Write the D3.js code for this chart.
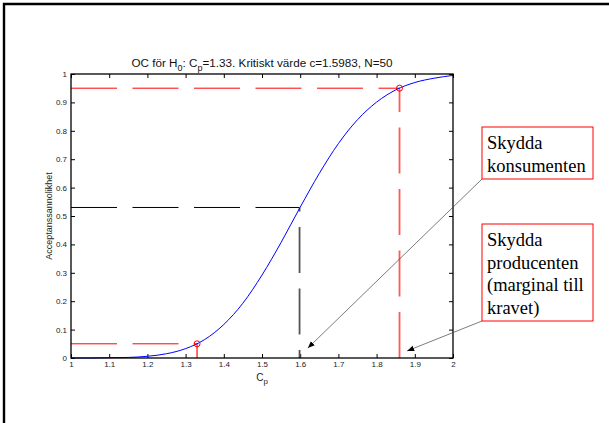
<!DOCTYPE html>
<html>
<head>
<meta charset="utf-8">
<script src="https://cdn.jsdelivr.net/npm/d3@7"></script>
<style>
  html, body { margin: 0; padding: 0; background: #fff; }
  svg { display: block; }
</style>
</head>
<body>
<div id="chart"></div>
<script>
// OC-kurva, avlästa värden
const cpValues = [1.00, 1.05, 1.10, 1.15, 1.20, 1.25, 1.30, 1.35, 1.40, 1.45, 1.50,
                  1.55, 1.60, 1.65, 1.70, 1.75, 1.80, 1.85, 1.90, 1.95, 2.00];
const ocValues = [0.000, 0.000, 0.001, 0.002, 0.006, 0.015, 0.033, 0.065, 0.118, 0.193, 0.292,
                  0.407, 0.531, 0.650, 0.755, 0.839, 0.901, 0.944, 0.970, 0.985, 0.995];

const xTicks = [1, 1.1, 1.2, 1.3, 1.4, 1.5, 1.6, 1.7, 1.8, 1.9, 2];
const yTicks = [0, 0.1, 0.2, 0.3, 0.4, 0.5, 0.6, 0.7, 0.8, 0.9, 1];

// referenspunkter
const cpH0 = 1.33, alpha = 0.05;
const cpCrit = 1.5983, ocCrit = 0.53;
const cpBeta = 1.86, ocBeta = 0.95;

// annoteringar
const notes = [
  { lines: ["Skydda", "konsumenten"], box: [482, 127, 111, 52], target: [1.62, 0.035] },
  { lines: ["Skydda", "producenten", "(marginal till", "kravet)"], box: [482, 224, 111, 97], target: [1.88, 0.025] }
];

const W = 609, H = 423;
const sans = "'Liberation Sans', Arial, Helvetica, sans-serif";
const serif = "'Liberation Serif', 'Times New Roman', serif";

const svg = d3.select('#chart').append('svg')
  .attr('width', W).attr('height', H);

// ram (bara topp och vänster syns)
svg.append('path')
  .attr('d', `M4,${H} L4,4 L${W},4`)
  .attr('fill', 'none').attr('stroke', '#000').attr('stroke-width', 2.4);

const x = d3.scaleLinear().domain([1, 2]).range([71, 453]);
const y = d3.scaleLinear().domain([0, 1]).range([358, 74]);

const fmt = d3.format('~g');

// axlar med inåtriktade ticks
const gx = svg.append('g').attr('transform', `translate(0,${y(0)})`)
  .call(d3.axisBottom(x).tickValues(xTicks).tickFormat(fmt).tickSize(-4).tickPadding(4));
svg.append('g').attr('transform', `translate(0,${y(1)})`)
  .call(d3.axisTop(x).tickValues(xTicks).tickFormat('').tickSize(-4));
const gy = svg.append('g').attr('transform', `translate(${x(1)},0)`)
  .call(d3.axisLeft(y).tickValues(yTicks).tickFormat(fmt).tickSize(-4).tickPadding(4));
svg.append('g').attr('transform', `translate(${x(2)},0)`)
  .call(d3.axisRight(y).tickValues(yTicks).tickFormat('').tickSize(-4));

svg.selectAll('.domain').remove();
svg.selectAll('.tick line').attr('stroke', '#000').attr('stroke-width', 1);
svg.selectAll('.tick text').attr('font-family', sans).attr('font-size', 8).attr('fill', '#222');
gx.selectAll('.tick text').attr('dy', '0.6em');

// streckade hjälplinjer
const dash = '46,15.5';
const guide = (x1, y1, x2, y2, color, width, offset) => {
  svg.append('line')
    .attr('x1', x(x1)).attr('y1', y(y1)).attr('x2', x(x2)).attr('y2', y(y2))
    .attr('stroke', color).attr('stroke-width', width)
    .attr('stroke-dasharray', dash).attr('stroke-dashoffset', offset || 0);
};
guide(1, ocBeta, cpBeta, ocBeta, '#ff0000', 1);
guide(cpBeta, 0, cpBeta, ocBeta, '#ff5a5a', 1.8);
guide(1, alpha, cpH0, alpha, '#ff0000', 1);
guide(cpH0, 0, cpH0, alpha, '#ff3a3a', 1.5);
guide(1, ocCrit, cpCrit, ocCrit, '#000', 1);
guide(cpCrit, ocCrit, cpCrit, 0, '#555', 1.8, 42);

// kurvan
const line = d3.line()
  .x((d, i) => x(cpValues[i]))
  .y(d => y(d))
  .curve(d3.curveMonotoneX);
svg.append('path')
  .datum(ocValues)
  .attr('d', line)
  .attr('fill', 'none').attr('stroke', '#0000ff').attr('stroke-width', 1);

// ringar
svg.selectAll('circle.mark')
  .data([[cpH0, alpha], [cpBeta, ocBeta]])
  .enter().append('circle')
  .attr('class', 'mark')
  .attr('cx', d => x(d[0])).attr('cy', d => y(d[1])).attr('r', 3)
  .attr('fill', 'none').attr('stroke', '#ff0000').attr('stroke-width', 1);

// axelram
svg.append('rect')
  .attr('x', x(1)).attr('y', y(1))
  .attr('width', x(2) - x(1)).attr('height', y(0) - y(1))
  .attr('fill', 'none').attr('stroke', '#000').attr('stroke-width', 1.3);

// titel
const title = svg.append('text')
  .attr('x', (x(1) + x(2)) / 2).attr('y', 67)
  .attr('text-anchor', 'middle')
  .attr('font-family', sans).attr('font-size', 11.7).attr('fill', '#111');
title.append('tspan').text('OC för H');
title.append('tspan').attr('dy', 3.5).attr('font-size', 9).text('0');
title.append('tspan').attr('dy', -3.5).text(': C');
title.append('tspan').attr('dy', 3.5).attr('font-size', 9).text('p');
title.append('tspan').attr('dy', -3.5).text('=1.33. Kritiskt värde c=1.5983, N=50');

// axeltitlar
const xl = svg.append('text')
  .attr('x', (x(1) + x(2)) / 2).attr('y', 381)
  .attr('text-anchor', 'middle')
  .attr('font-family', sans).attr('font-size', 10).attr('fill', '#222');
xl.append('tspan').text('C');
xl.append('tspan').attr('dy', 3).attr('font-size', 8).text('p');

svg.append('text')
  .attr('transform', `translate(52,${(y(0) + y(1)) / 2}) rotate(-90)`)
  .attr('text-anchor', 'middle')
  .attr('font-family', sans).attr('font-size', 9).attr('fill', '#222')
  .text('Acceptanssannolikhet');

// pilar och rutor
svg.append('defs').append('marker')
  .attr('id', 'arrow')
  .attr('viewBox', '0 0 10 10')
  .attr('refX', 10).attr('refY', 5)
  .attr('markerWidth', 7).attr('markerHeight', 7)
  .attr('markerUnits', 'userSpaceOnUse')
  .attr('orient', 'auto')
  .append('path').attr('d', 'M0,1 L10,5 L0,9 Z').attr('fill', '#000');

notes.forEach(n => {
  const [bx, by, bw, bh] = n.box;
  svg.append('line')
    .attr('x1', bx).attr('y1', by + bh)
    .attr('x2', x(n.target[0])).attr('y2', y(n.target[1]))
    .attr('stroke', '#444').attr('stroke-width', 0.7)
    .attr('marker-end', 'url(#arrow)');
  svg.append('rect')
    .attr('x', bx).attr('y', by).attr('width', bw).attr('height', bh)
    .attr('fill', '#fff').attr('stroke', '#ff0000').attr('stroke-width', 1);
  const t = svg.append('text')
    .attr('font-family', serif).attr('font-size', 18.5).attr('fill', '#000');
  n.lines.forEach((s, i) => {
    t.append('tspan').attr('x', bx + 5).attr('y', by + 22 + i * 22.7).text(s);
  });
});
</script>
</body>
</html>
